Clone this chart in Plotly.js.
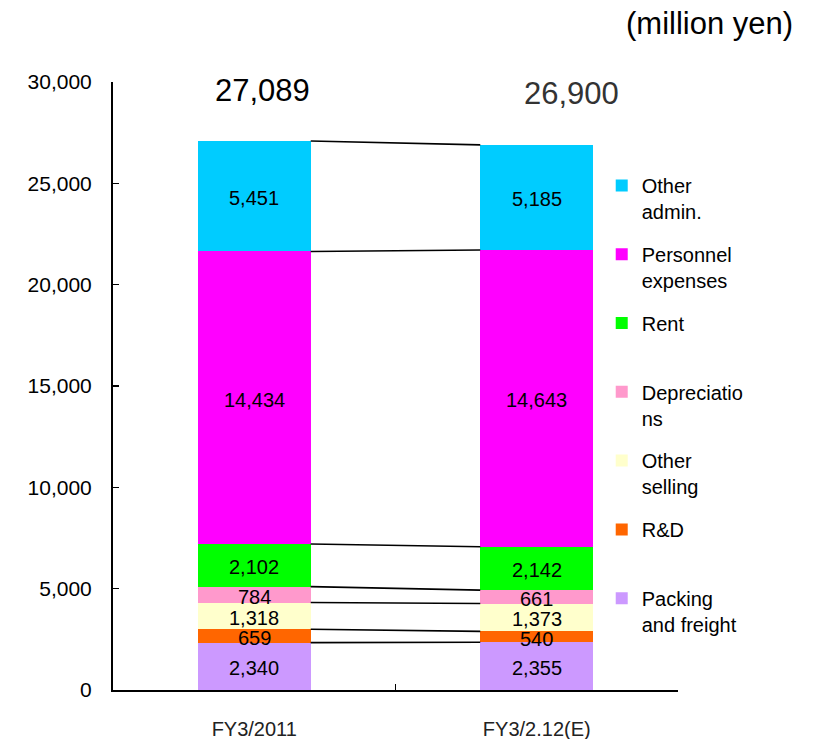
<!DOCTYPE html>
<html>
<head>
<meta charset="utf-8">
<script src="https://cdn.plot.ly/plotly-3.0.1.min.js"></script>
<style>html,body{margin:0;padding:0;background:#fff;}#chart{width:816px;height:739px;}</style>
</head>
<body>
<div id="chart"></div>
<script>
// ---- data ----
var categories = ["FY3/2011", "FY3/2.12(E)"];
var seriesNames = ["Packing<br>and freight", "R&D<br> ", "Other<br>selling", "Depreciatio<br>ns", "Rent<br> ", "Personnel<br>expenses", "Other<br>admin."];
var packingFreight = [2340, 2355];
var rnd = [659, 540];
var otherSelling = [1318, 1373];
var depreciations = [784, 661];
var rent = [2102, 2142];
var personnel = [14434, 14643];
var otherAdmin = [5451, 5185];
var totals = [27089, 26900];
var yTicks = [0, 5000, 10000, 15000, 20000, 25000, 30000];

// ---- styling ----
var colors = ["#CC99FF", "#FF6600", "#FFFFCC", "#FF99CC", "#00FF00", "#FF00FF", "#00CCFF"];
var series = [packingFreight, rnd, otherSelling, depreciations, rent, personnel, otherAdmin];
var barWidth = 0.4;
var font = "Liberation Sans, Arial, sans-serif";

var traces = [];
series.forEach(function (vals, i) {
  traces.push({
    type: "bar", x: categories, y: vals, name: seriesNames[i],
    legendgroup: "g" + i, legendrank: 100 - i,
    marker: {color: colors[i], line: {width: 0}},
    width: barWidth, hoverinfo: "y"
  });
});

// labels at segment midpoints + connector tops
var annotations = [];
var cum = categories.map(function () { return 0; });
var tops = [];
series.forEach(function (vals) {
  var t = [];
  vals.forEach(function (v, j) {
    annotations.push({x: categories[j], y: cum[j] + v / 2, xref: "x", yref: "y",
      text: v.toLocaleString("en-US"), showarrow: false, yshift: -2,
      font: {family: font, size: 20, color: "#000"}});
    cum[j] += v;
    t.push(cum[j]);
  });
  tops.push(t);
});

// connector lines
var shapes = tops.map(function (t) {
  return {type: "line", xref: "x", yref: "y",
    x0: 0 + barWidth / 2, x1: 1 - barWidth / 2, y0: t[0], y1: t[1],
    line: {color: "#000", width: 1.6}};
});

totals.forEach(function (tv, j) {
  annotations.push({x: categories[j], y: cum[j], xref: "x", yref: "y",
    text: tv.toLocaleString("en-US"), showarrow: false,
    xshift: j === 0 ? 8 : 35, yshift: 51, yanchor: "middle",
    font: {family: font, size: 31, color: j === 0 ? "#000" : "#333"}});
});
annotations.push({xref: "paper", yref: "paper", x: 1.207, y: 1.097,
  xanchor: "right", yanchor: "middle", showarrow: false,
  text: "(million yen)", font: {family: font, size: 31, color: "#000"}});

var layout = {
  width: 816, height: 739,
  margin: {l: 113, r: 138, t: 82, b: 49, autoexpand: false},
  paper_bgcolor: "#fff", plot_bgcolor: "#fff",
  barmode: "stack",
  font: {family: font, color: "#000"},
  xaxis: {type: "category", range: [-0.5, 1.5], tickson: "boundaries",
    ticks: "inside", ticklen: 6, tickwidth: 1.5, tickcolor: "#000",
    showline: true, linecolor: "#000", linewidth: 2, showgrid: false,
    ticklabelstandoff: 20,
    tickfont: {family: font, size: 20, color: "#222"}},
  yaxis: {range: [0, 30000], tickvals: yTicks, tickformat: ",d",
    ticks: "inside", ticklen: 6, tickwidth: 1.5, tickcolor: "#000",
    showline: true, linecolor: "#000", linewidth: 2, showgrid: false, zeroline: false,
    ticklabelstandoff: 15,
    tickfont: {family: font, size: 21, color: "#000"}},
  legend: {x: 0.865, xanchor: "left", y: 0.862, yanchor: "top",
    traceorder: "grouped", valign: "top", tracegroupgap: 13.8,
    font: {family: font, size: 20, color: "#000"}, bgcolor: "rgba(0,0,0,0)"},
  shapes: shapes,
  annotations: annotations
};

Plotly.newPlot("chart", traces, layout, {displayModeBar: false, staticPlot: true});
</script>
</body>
</html>
